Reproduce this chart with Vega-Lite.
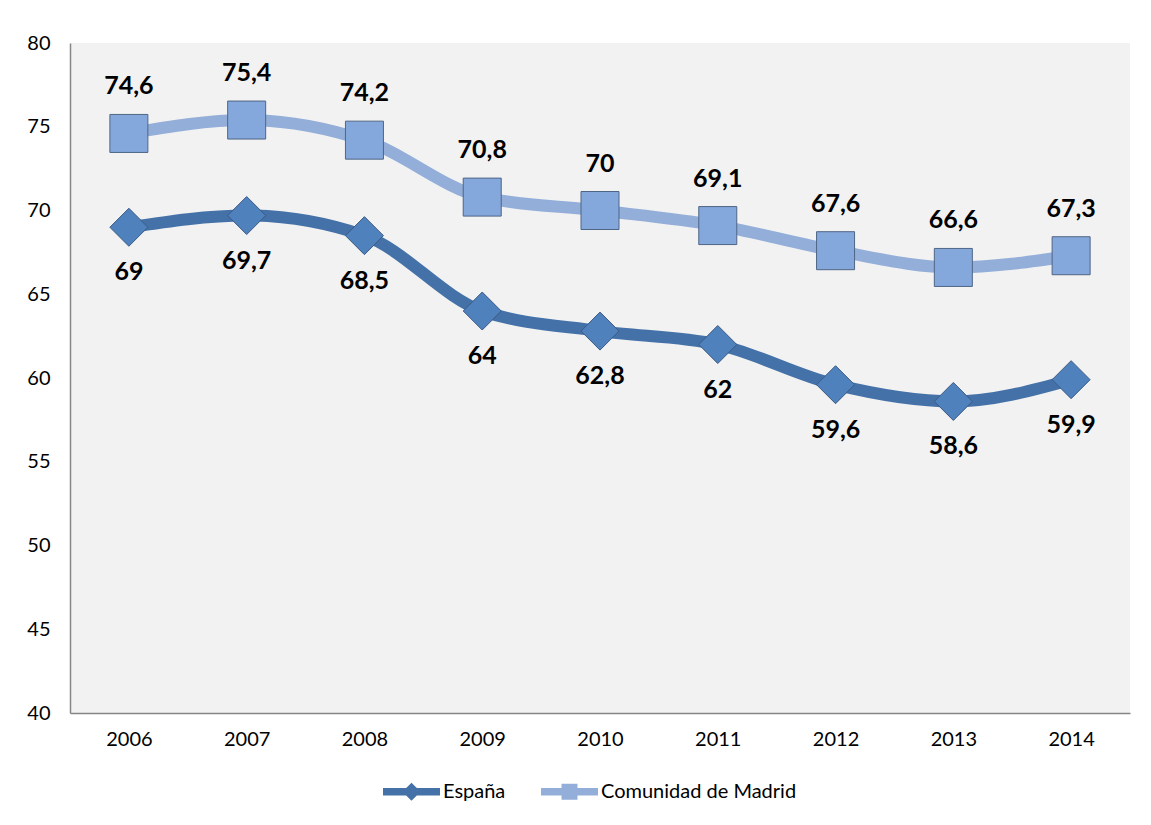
{
  "$schema": "https://vega.github.io/schema/vega-lite/v6.json",
  "width": 1060,
  "height": 670,
  "autosize": {"type": "none"},
  "padding": {"left": 70, "top": 43, "right": 21, "bottom": 112},
  "background": "#ffffff",
  "config": {
    "locale": {"number": {"decimal": ",", "thousands": ".", "grouping": [3], "currency": ["", " €"]}},
    "font": "Lato",
    "view": {"fill": "#f2f2f2", "stroke": null},
    "axis": {"labelFont": "Lato", "labelFontSize": 20, "labelColor": "#000000", "domainColor": "#868686", "domainWidth": 1.5, "ticks": false, "grid": false, "title": null},
    "legend": {"orient": "none", "direction": "horizontal", "legendX": 313, "legendY": 720, "title": null, "padding": 0, "symbolSize": 3249, "symbolOpacity": 1, "symbolStrokeWidth": 0, "labelFontSize": 20, "labelFont": "Lato", "labelColor": "#000000", "labelOffset": 3, "labelLimit": 400, "columnPadding": 35}
  },
  "data": {
    "values": [
      {"year": "2006", "serie": "España", "value": 69},
      {"year": "2007", "serie": "España", "value": 69.7},
      {"year": "2008", "serie": "España", "value": 68.5},
      {"year": "2009", "serie": "España", "value": 64},
      {"year": "2010", "serie": "España", "value": 62.8},
      {"year": "2011", "serie": "España", "value": 62},
      {"year": "2012", "serie": "España", "value": 59.6},
      {"year": "2013", "serie": "España", "value": 58.6},
      {"year": "2014", "serie": "España", "value": 59.9},
      {"year": "2006", "serie": "Comunidad de Madrid", "value": 74.6},
      {"year": "2007", "serie": "Comunidad de Madrid", "value": 75.4},
      {"year": "2008", "serie": "Comunidad de Madrid", "value": 74.2},
      {"year": "2009", "serie": "Comunidad de Madrid", "value": 70.8},
      {"year": "2010", "serie": "Comunidad de Madrid", "value": 70},
      {"year": "2011", "serie": "Comunidad de Madrid", "value": 69.1},
      {"year": "2012", "serie": "Comunidad de Madrid", "value": 67.6},
      {"year": "2013", "serie": "Comunidad de Madrid", "value": 66.6},
      {"year": "2014", "serie": "Comunidad de Madrid", "value": 67.3}
    ]
  },
  "encoding": {
    "x": {"field": "year", "type": "ordinal", "scale": {"type": "point", "padding": 0.5}, "axis": {"labelAngle": 0, "labelPadding": 16}},
    "y": {"field": "value", "type": "quantitative", "scale": {"domain": [40, 80], "nice": false, "zero": false}, "axis": {"values": [40, 45, 50, 55, 60, 65, 70, 75, 80], "labelPadding": 20}}
  },
  "layer": [
    {
      "transform": [{"filter": "datum.serie === 'Comunidad de Madrid'"}],
      "mark": {"type": "line", "interpolate": "monotone", "strokeWidth": 12, "strokeCap": "round", "color": "#93aed8"},
      "encoding": {}
    },
    {
      "transform": [{"filter": "datum.serie === 'España'"}],
      "mark": {"type": "line", "interpolate": "monotone", "strokeWidth": 12, "strokeCap": "round", "color": "#4472a8"},
      "encoding": {}
    },
    {
      "transform": [{"filter": "datum.serie === 'España'"}],
      "mark": {"type": "point", "shape": "diamond", "filled": true, "size": 1444, "fill": "#4f81bd", "stroke": "#3b5a85", "strokeWidth": 1, "opacity": 1}
    },
    {
      "transform": [{"filter": "datum.serie === 'Comunidad de Madrid'"}],
      "mark": {"type": "point", "shape": "square", "filled": true, "size": 1444, "fill": "#84a7dc", "stroke": "#4f6585", "strokeWidth": 1, "opacity": 1}
    },
    {
      "transform": [{"filter": "datum.serie === 'Comunidad de Madrid'"}],
      "mark": {"type": "text", "dy": -47, "fontSize": 25, "fontWeight": "bold", "font": "Lato", "color": "#000000", "baseline": "middle"},
      "encoding": {"text": {"field": "value", "type": "quantitative", "format": ".1~f"}}
    },
    {
      "transform": [{"filter": "datum.serie === 'España'"}],
      "mark": {"type": "text", "dy": 45, "fontSize": 25, "fontWeight": "bold", "font": "Lato", "color": "#000000", "baseline": "middle"},
      "encoding": {"text": {"field": "value", "type": "quantitative", "format": ".1~f"}}
    },
    {
      "mark": {"type": "point", "filled": true, "size": 0},
      "encoding": {
        "color": {"field": "serie", "type": "nominal", "scale": {"domain": ["España", "Comunidad de Madrid"], "range": ["#4472a8", "#93aed8"]}},
        "shape": {"field": "serie", "type": "nominal", "scale": {"domain": ["España", "Comunidad de Madrid"], "range": ["M-1,-0.13L1,-0.13L1,0.13L-1,0.13Z M0,-0.32L0.32,0L0,0.32L-0.32,0Z", "M-1,-0.13L1,-0.13L1,0.13L-1,0.13Z M-0.28,-0.28L0.28,-0.28L0.28,0.28L-0.28,0.28Z"]}}
      }
    }
  ]
}
